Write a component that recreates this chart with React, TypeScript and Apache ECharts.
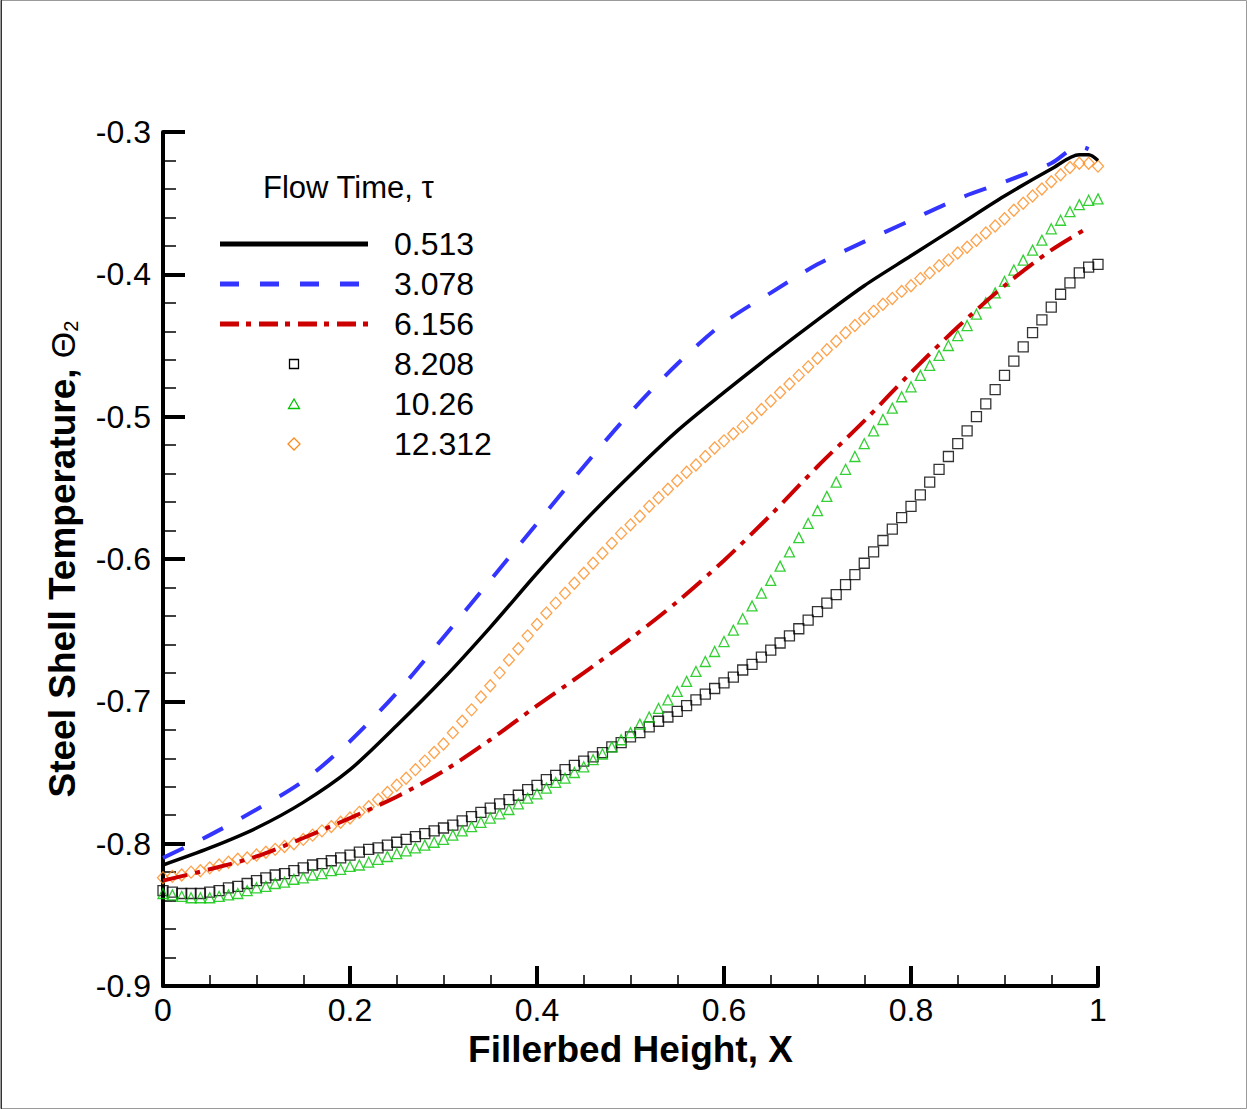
import React, { useEffect, useRef } from "react";
import * as echarts from "echarts";

const FONT = "'Liberation Sans', Arial, Helvetica, sans-serif";

// X positions of the marker series (Fillerbed Height, X)
const X_GRID = [
  0, 0.01, 0.02, 0.03, 0.04, 0.05, 0.06, 0.07, 0.08, 0.09,
  0.1, 0.11, 0.12, 0.13, 0.14, 0.15, 0.16, 0.17, 0.18, 0.19,
  0.2, 0.21, 0.22, 0.23, 0.24, 0.25, 0.26, 0.27, 0.28, 0.29,
  0.3, 0.31, 0.32, 0.33, 0.34, 0.35, 0.36, 0.37, 0.38, 0.39,
  0.4, 0.41, 0.42, 0.43, 0.44, 0.45, 0.46, 0.47, 0.48, 0.49,
  0.5, 0.51, 0.52, 0.53, 0.54, 0.55, 0.56, 0.57, 0.58, 0.59,
  0.6, 0.61, 0.62, 0.63, 0.64, 0.65, 0.66, 0.67, 0.68, 0.69,
  0.7, 0.71, 0.72, 0.73, 0.74, 0.75, 0.76, 0.77, 0.78, 0.79,
  0.8, 0.81, 0.82, 0.83, 0.84, 0.85, 0.86, 0.87, 0.88, 0.89,
  0.9, 0.91, 0.92, 0.93, 0.94, 0.95, 0.96, 0.97, 0.98, 0.99, 1,
];

// tau = 8.208 (black squares)
const T8208 = [
  -0.833, -0.834, -0.835, -0.835, -0.835, -0.834, -0.833, -0.831, -0.83, -0.828,
  -0.826, -0.824, -0.822, -0.821, -0.819, -0.817, -0.815, -0.814, -0.812, -0.81,
  -0.808, -0.806, -0.804, -0.803, -0.801, -0.799, -0.797, -0.795, -0.793, -0.791,
  -0.789, -0.787, -0.784, -0.781, -0.778, -0.775, -0.772, -0.769, -0.766, -0.762,
  -0.759, -0.755, -0.752, -0.748, -0.745, -0.742, -0.739, -0.736, -0.732, -0.729,
  -0.725, -0.722, -0.718, -0.714, -0.711, -0.707, -0.703, -0.699, -0.695, -0.691,
  -0.687, -0.683, -0.678, -0.674, -0.669, -0.664, -0.659, -0.654, -0.649, -0.643,
  -0.637, -0.631, -0.625, -0.618, -0.611, -0.603, -0.595, -0.587, -0.579, -0.571,
  -0.563, -0.555, -0.546, -0.537, -0.528, -0.519, -0.51, -0.5, -0.491, -0.481,
  -0.471, -0.461, -0.451, -0.441, -0.432, -0.423, -0.414, -0.406, -0.399, -0.395, -0.393,
];

// tau = 10.26 (green triangles)
const T1026 = [
  -0.835, -0.836, -0.837, -0.838, -0.838, -0.838, -0.837, -0.836, -0.835, -0.833,
  -0.831, -0.83, -0.828, -0.827, -0.825, -0.824, -0.822, -0.821, -0.819, -0.818,
  -0.816, -0.815, -0.813, -0.811, -0.809, -0.807, -0.805, -0.803, -0.801, -0.799,
  -0.797, -0.794, -0.791, -0.788, -0.785, -0.782, -0.779, -0.776, -0.772, -0.768,
  -0.765, -0.761, -0.757, -0.754, -0.75, -0.746, -0.741, -0.737, -0.732, -0.727,
  -0.722, -0.716, -0.711, -0.705, -0.699, -0.693, -0.686, -0.679, -0.672, -0.665,
  -0.658, -0.65, -0.642, -0.633, -0.624, -0.615, -0.605, -0.595, -0.585, -0.575,
  -0.566, -0.556, -0.546, -0.537, -0.528, -0.519, -0.51, -0.502, -0.494, -0.486,
  -0.479, -0.471, -0.464, -0.457, -0.45, -0.443, -0.436, -0.428, -0.42, -0.413,
  -0.405, -0.397, -0.39, -0.383, -0.376, -0.368, -0.362, -0.356, -0.351, -0.348, -0.347,
];

// tau = 12.312 (orange diamonds)
const T12312 = [
  -0.824, -0.823, -0.822, -0.82, -0.819, -0.817, -0.815, -0.813, -0.811, -0.81,
  -0.808, -0.806, -0.804, -0.802, -0.8, -0.797, -0.794, -0.791, -0.788, -0.785,
  -0.782, -0.778, -0.774, -0.769, -0.764, -0.759, -0.754, -0.748, -0.742, -0.736,
  -0.73, -0.722, -0.714, -0.706, -0.697, -0.689, -0.68, -0.671, -0.663, -0.654,
  -0.646, -0.638, -0.631, -0.624, -0.617, -0.61, -0.603, -0.596, -0.589, -0.582,
  -0.576, -0.57, -0.563, -0.557, -0.551, -0.545, -0.539, -0.534, -0.528, -0.522,
  -0.517, -0.512, -0.507, -0.501, -0.495, -0.489, -0.483, -0.477, -0.471, -0.465,
  -0.459, -0.453, -0.447, -0.441, -0.436, -0.431, -0.426, -0.421, -0.417, -0.412,
  -0.408, -0.403, -0.399, -0.394, -0.39, -0.385, -0.381, -0.376, -0.371, -0.366,
  -0.361, -0.355, -0.35, -0.345, -0.34, -0.335, -0.33, -0.325, -0.322, -0.322, -0.324,
];

// tau = 0.513 (black solid line)
const T0513_X = [0, 0.05, 0.1, 0.15, 0.2, 0.25, 0.3, 0.35, 0.4, 0.45, 0.5, 0.55, 0.6, 0.65, 0.7, 0.75, 0.8, 0.85, 0.9, 0.95, 0.98, 0.99, 1];
const T0513_Y = [-0.815, -0.803, -0.789, -0.771, -0.748, -0.717, -0.684, -0.648, -0.61, -0.574, -0.541, -0.51, -0.483, -0.457, -0.432, -0.408, -0.387, -0.366, -0.345, -0.326, -0.316, -0.316, -0.32];

// tau = 3.078 (blue dashed line)
const T3078_X = [0, 0.05, 0.1, 0.15, 0.2, 0.25, 0.3, 0.35, 0.4, 0.45, 0.5, 0.55, 0.6, 0.65, 0.7, 0.75, 0.8, 0.85, 0.9, 0.95, 0.98, 0.99];
const T3078_Y = [-0.81, -0.794, -0.776, -0.756, -0.728, -0.694, -0.655, -0.615, -0.575, -0.535, -0.497, -0.463, -0.434, -0.413, -0.393, -0.377, -0.362, -0.347, -0.335, -0.322, -0.31, -0.312];

// tau = 6.156 (red dash-dot line)
const T6156_X = [0, 0.05, 0.1, 0.15, 0.2, 0.25, 0.3, 0.35, 0.4, 0.45, 0.5, 0.55, 0.6, 0.65, 0.7, 0.75, 0.8, 0.85, 0.9, 0.95, 0.99];
const T6156_Y = [-0.826, -0.818, -0.809, -0.796, -0.782, -0.767, -0.749, -0.727, -0.703, -0.68, -0.656, -0.63, -0.601, -0.569, -0.535, -0.503, -0.469, -0.437, -0.408, -0.383, -0.367];

const LEGEND_TITLE = "Flow Time, τ";
const LEGEND_LABELS = ["0.513", "3.078", "6.156", "8.208", "10.26", "12.312"];

const C_BLACK = "#000000";
const C_BLUE = "#3434ff";
const C_RED = "#cc0000";
const C_GREEN = "#00c400";
const C_ORANGE = "#ff8a1c";

const zip = (xs: number[], ys: number[]) => xs.map((x, i) => [x, ys[i]]);

export default function App() {
  const ref = useRef<HTMLDivElement | null>(null);

  useEffect(() => {
    if (!ref.current) return;
    const chart = echarts.init(ref.current, undefined, { renderer: "svg" });

    const legendY = [244, 284, 324, 364, 404, 444];
    const graphics: any[] = [
      {
        type: "rect",
        silent: true,
        shape: { x: 0.5, y: 0.5, width: 1246, height: 1108 },
        style: { fill: "none", stroke: "#9a9a9a", lineWidth: 1 },
      },
      {
        type: "line",
        silent: true,
        shape: { x1: 1.5, y1: 0, x2: 1.5, y2: 1109 },
        style: { stroke: "#333", lineWidth: 1 },
      },
      {
        type: "text",
        left: 263,
        top: 172,
        style: { text: LEGEND_TITLE, fontSize: 31, fontFamily: FONT, fill: "#000" },
      },
      {
        type: "line",
        shape: { x1: 220, y1: legendY[0], x2: 368, y2: legendY[0] },
        style: { stroke: C_BLACK, lineWidth: 5 },
      },
      {
        type: "line",
        shape: { x1: 220, y1: legendY[1], x2: 368, y2: legendY[1] },
        style: { stroke: C_BLUE, lineWidth: 5, lineDash: [19, 21] },
      },
      {
        type: "line",
        shape: { x1: 220, y1: legendY[2], x2: 368, y2: legendY[2] },
        style: { stroke: C_RED, lineWidth: 5, lineDash: [19, 7, 5, 8] },
      },
      {
        type: "rect",
        shape: { x: 289.5, y: legendY[3] - 4.5, width: 9, height: 9 },
        style: { fill: "none", stroke: C_BLACK, lineWidth: 1.3 },
      },
      {
        type: "polygon",
        shape: { points: [[294, legendY[4] - 5], [288.5, legendY[4] + 4.5], [299.5, legendY[4] + 4.5]] },
        style: { fill: "none", stroke: C_GREEN, lineWidth: 1.3 },
      },
      {
        type: "polygon",
        shape: { points: [[294, legendY[5] - 6], [300, legendY[5]], [294, legendY[5] + 6], [288, legendY[5]]] },
        style: { fill: "none", stroke: C_ORANGE, lineWidth: 1.3 },
      },
    ];
    LEGEND_LABELS.forEach((lab, i) => {
      graphics.push({
        type: "text",
        x: 394,
        y: legendY[i],
        style: {
          text: lab,
          fontSize: 32,
          fontFamily: FONT,
          fill: "#000",
          verticalAlign: "middle",
          align: "left",
        },
      });
    });

    const scatterCommon = {
      type: "scatter",
      symbolSize: 10,
      z: 3,
      silent: true,
    };

    chart.setOption({
      animation: false,
      backgroundColor: "#ffffff",
      grid: { left: 163, right: 149, top: 132, bottom: 123, containLabel: false },
      xAxis: {
        type: "value",
        min: 0,
        max: 1,
        interval: 0.2,
        name: "Fillerbed Height, X",
        nameLocation: "middle",
        nameGap: 37,
        nameTextStyle: { fontSize: 37, fontWeight: "bold", fontFamily: FONT, color: "#000" },
        axisLine: { show: true, onZero: false, lineStyle: { color: "#000", width: 4 } },
        axisTick: { show: true, inside: true, length: 20, lineStyle: { color: "#000", width: 4 } },
        minorTick: { show: true, splitNumber: 4, length: 11, lineStyle: { color: "#000", width: 1.5 } },
        splitLine: { show: false },
        minorSplitLine: { show: false },
        axisLabel: {
          fontSize: 32,
          fontFamily: FONT,
          color: "#000",
          margin: 8,
          formatter: (v: number) => (v === 0 ? "0" : v === 1 ? "1" : v.toFixed(1)),
        },
      },
      yAxis: {
        type: "value",
        min: -0.9,
        max: -0.3,
        interval: 0.1,
        name: "{b|Steel Shell Temperature, }{t|Θ}{s|2}",
        nameLocation: "middle",
        nameGap: 82,
        nameRotate: 90,
        nameTextStyle: {
          rich: {
            b: { fontSize: 37, fontWeight: "bold", fontFamily: FONT, color: "#000" },
            t: { fontSize: 34, fontFamily: FONT, color: "#000" },
            s: { fontSize: 20, fontFamily: FONT, color: "#000", verticalAlign: "bottom" },
          },
        },
        axisLine: { show: true, onZero: false, lineStyle: { color: "#000", width: 4 } },
        axisTick: { show: true, inside: true, length: 22, lineStyle: { color: "#000", width: 4 } },
        minorTick: { show: true, splitNumber: 5, length: 13, lineStyle: { color: "#000", width: 1.5 } },
        splitLine: { show: false },
        minorSplitLine: { show: false },
        axisLabel: {
          fontSize: 32,
          fontFamily: FONT,
          color: "#000",
          margin: 12,
          formatter: (v: number) => v.toFixed(1),
        },
      },
      graphic: graphics,
      series: [
        {
          name: "0.513",
          type: "line",
          data: zip(T0513_X, T0513_Y),
          showSymbol: false,
          smooth: 0.3,
          lineStyle: { color: C_BLACK, width: 3.5 },
          z: 4,
          silent: true,
        },
        {
          name: "3.078",
          type: "line",
          data: zip(T3078_X, T3078_Y),
          showSymbol: false,
          smooth: 0.3,
          lineStyle: { color: C_BLUE, width: 4, type: [23, 21] },
          z: 4,
          silent: true,
        },
        {
          name: "6.156",
          type: "line",
          data: zip(T6156_X, T6156_Y),
          showSymbol: false,
          smooth: 0.3,
          lineStyle: { color: C_RED, width: 4, type: [25, 8, 5, 8] },
          z: 4,
          silent: true,
        },
        {
          ...scatterCommon,
          name: "8.208",
          symbol: "rect",
          data: zip(X_GRID, T8208),
          itemStyle: { color: "rgba(0,0,0,0)", borderColor: C_BLACK, borderWidth: 1.3 },
        },
        {
          ...scatterCommon,
          name: "10.26",
          symbol: "triangle",
          symbolSize: 10,
          data: zip(X_GRID, T1026),
          itemStyle: { color: "rgba(0,0,0,0)", borderColor: C_GREEN, borderWidth: 1.3 },
        },
        {
          ...scatterCommon,
          name: "12.312",
          symbol: "diamond",
          symbolSize: [11, 12],
          data: zip(X_GRID, T12312),
          itemStyle: { color: "rgba(0,0,0,0)", borderColor: C_ORANGE, borderWidth: 1.3 },
        },
      ],
    });

    return () => chart.dispose();
  }, []);

  return (
    <div
      ref={ref}
      style={{ position: "absolute", left: 0, top: 0, width: 1247, height: 1109, background: "#fff" }}
    />
  );
}
